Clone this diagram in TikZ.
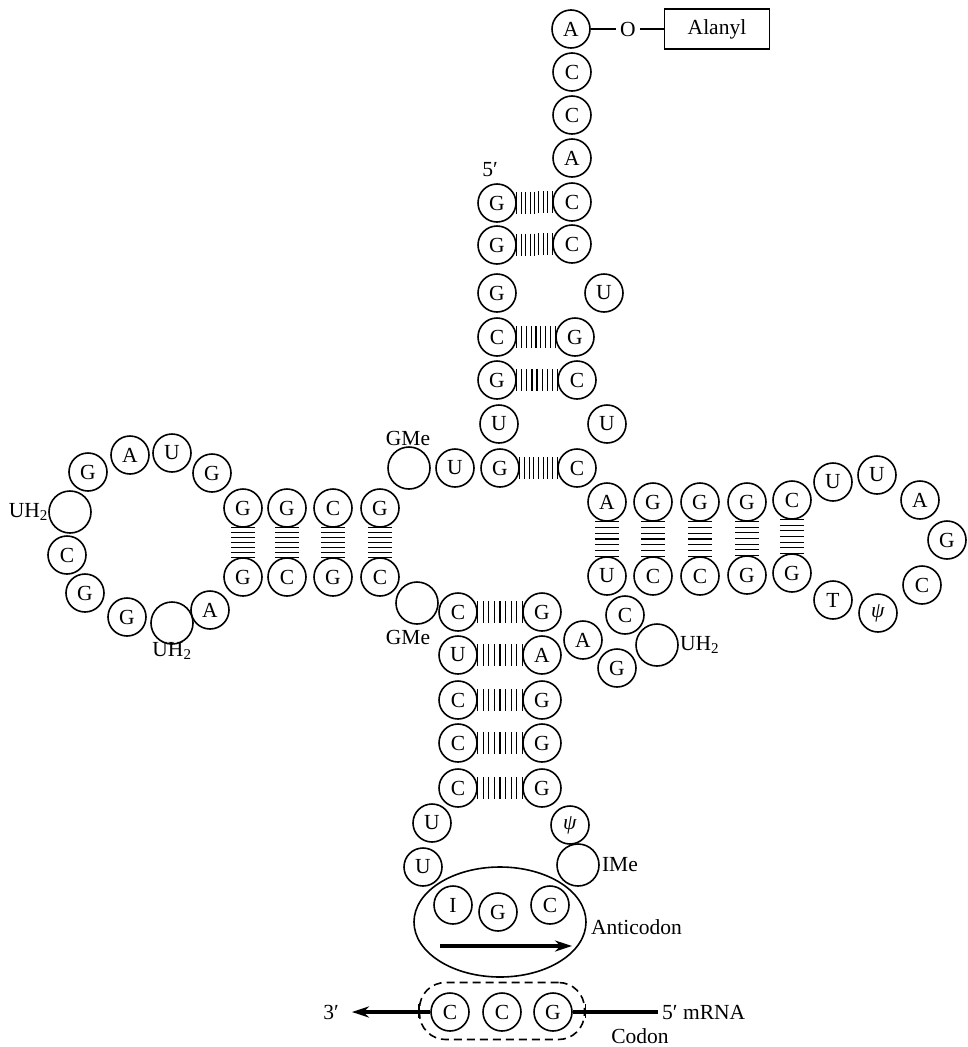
\documentclass[tikz,border=0pt]{standalone}
\usepackage{fontspec}
\setmainfont{Liberation Serif}
\usetikzlibrary{calc,arrows.meta,shapes.geometric}
\tikzset{
 base/.style={circle,draw,line width=1.6pt,minimum size=38pt,inner sep=0pt,font=\fontsize{21.5}{24}\selectfont},
 modb/.style={base,minimum size=42pt},
 lab/.style={inner sep=0pt,font=\fontsize{21.5}{24}\selectfont},
 rung/.style={line width=1.1pt},
 bigarrow/.style={line width=3.2pt,-{Stealth[length=17pt,width=11pt]}},
}
\newcommand\hpair[2]{\foreach \i in {0,...,8}{\draw[rung] ($(#1.east)!\i/8!(#2.west)$) +(0,-11) -- +(0,11);}}
\newcommand\vpair[2]{\foreach \i in {0,...,6}{\draw[rung] ($(#1.south)!\i/6!(#2.north)$) +(-12,0) -- +(12,0);}}
\begin{document}
\begin{tikzpicture}[x=1pt,y=-1pt]
\useasboundingbox (0,0) rectangle (967,1047);
% acceptor stem
\node[base] (a1) at (571,29) {A};
\node[base] (a2) at (572,72) {C};
\node[base] (a3) at (572,115) {C};
\node[base] (a4) at (572,158) {A};
\node[base] (a5) at (572,202) {C};
\node[base] (a6) at (572,244) {C};
\node[base] (r3) at (604,293) {U};
\node[base] (r4) at (575,337) {G};
\node[base] (r5) at (577,380) {C};
\node[base] (r6) at (607,424) {U};
\node[base] (r7) at (577,468) {C};
\node[base] (l1) at (497,203) {G};
\node[base] (l2) at (497,245) {G};
\node[base] (l3) at (497,293) {G};
\node[base] (l4) at (497,337) {C};
\node[base] (l5) at (497,380) {G};
\node[base] (l6) at (499,424) {U};
\node[base] (l7) at (500,468) {G};
\node[base] (j1) at (455,468) {U};
\node[modb] (j2) at (409,468) {};
\node[lab] (p5) at (490,170) {5′};
\node[lab] (gme1) at (408,438) {GMe};
\hpair{l1}{a5}
\hpair{l2}{a6}
\hpair{l4}{r4}
\hpair{l5}{r5}
\hpair{l7}{r7}
% alanyl
\node[lab,inner sep=4pt] (ox) at (628,29) {O};
\node[draw,line width=1.6pt,minimum width=105pt,minimum height=40pt,font=\fontsize{21.5}{24}\selectfont] (ala) at (717,29) {Alanyl};
\draw[line width=1.4pt] (a1.east) -- (ox.west);
\draw[line width=1.4pt] (ox.east) -- (ala.west);
% D arm
\node[base] (d1) at (380,508) {G};
\node[base] (d2) at (333,508) {C};
\node[base] (d3) at (287,508) {G};
\node[base] (d4) at (243,508) {G};
\node[base] (e1) at (380,577) {C};
\node[base] (e2) at (333,577) {G};
\node[base] (e3) at (287,577) {C};
\node[base] (e4) at (243,577) {G};
\vpair{d1}{e1}
\vpair{d2}{e2}
\vpair{d3}{e3}
\vpair{d4}{e4}
\node[base] (dl1) at (212,473) {G};
\node[base] (dl2) at (172,453) {U};
\node[base] (dl3) at (130,455) {A};
\node[base] (dl4) at (88,472) {G};
\node[modb] (dl5) at (70,512) {};
\node[base] (dl6) at (67,555) {C};
\node[base] (dl7) at (85,593) {G};
\node[base] (dl8) at (127,617) {G};
\node[modb] (dl9) at (172,623) {};
\node[base] (dl10) at (210,610) {A};
\node[lab,anchor=east] (uh1) at (dl5.west) {UH\textsubscript{2}};
\node[lab,anchor=north] (uh2) at ([yshift=3pt]dl9.south) {UH\textsubscript{2}};
\node[modb] (gm2) at (417,603) {};
\node[lab] (gme2) at (408,637) {GMe};
% anticodon stem
\node[base] (s1) at (458,612) {C};
\node[base] (t1) at (542,612) {G};
\node[base] (s2) at (458,655) {U};
\node[base] (t2) at (542,655) {A};
\node[base] (s3) at (458,700) {C};
\node[base] (t3) at (542,700) {G};
\node[base] (s4) at (458,743) {C};
\node[base] (t4) at (542,743) {G};
\node[base] (s5) at (458,788) {C};
\node[base] (t5) at (542,788) {G};
\hpair{s1}{t1}
\hpair{s2}{t2}
\hpair{s3}{t3}
\hpair{s4}{t4}
\hpair{s5}{t5}
\node[base] (u1) at (432,823) {U};
\node[base] (u2) at (423,867) {U};
\node[base] (psi1) at (570,825) {\textit{ψ}};
\node[modb] (ime) at (578,865) {};
\node[lab,anchor=west] (imel) at ([xshift=2pt]ime.east) {IMe};
% anticodon
\node[ellipse,draw,line width=1.6pt,minimum width=172pt,minimum height=110pt] (acl) at (500,922) {};
\node[base] (ac1) at (453,905) {I};
\node[base] (ac2) at (498,912) {G};
\node[base] (ac3) at (550,905) {C};
\coordinate (aa1) at (440,946);
\coordinate (aa2) at (572,946);
\draw[bigarrow] (aa1) -- (aa2);
\node[lab,anchor=west] (acn) at (591,927) {Anticodon};
% codon
\node[draw,dashed,dash pattern=on 8pt off 5pt,line width=1.6pt,rounded corners=26pt,minimum width=165pt,minimum height=57pt] (cb) at (502,1011) {};
\node[base] (c1) at (450,1012) {C};
\node[base] (c2) at (502,1012) {C};
\node[base] (c3) at (553,1012) {G};
\node[lab] (p3) at (331,1012) {3′};
\node[lab,anchor=west] (mr) at (662,1012) {5′ mRNA};
\node[lab] (cdn) at (640,1036) {Codon};
\draw[bigarrow] (c1.west) -- ([xshift=13pt]p3.east);
\draw[line width=3.2pt] (c3.east) -- ([xshift=-4pt]mr.west);
\draw[line width=1.6pt] (cb.west) +(0,-7) -- +(0,7);
\draw[line width=1.6pt] (cb.east) +(0,-7) -- +(0,7);
% variable loop
\node[base] (v1) at (583,640) {A};
\node[base] (v2) at (617,668) {G};
\node[base] (v3) at (625,615) {C};
\node[modb] (v4) at (657,645) {};
\node[lab,anchor=west] (uh3) at ([xshift=1pt]v4.east) {UH\textsubscript{2}};
% T arm
\node[base] (f1) at (607,502) {A};
\node[base] (f2) at (653,502) {G};
\node[base] (f3) at (700,502) {G};
\node[base] (f4) at (747,502) {G};
\node[base] (f5) at (792,500) {C};
\node[base] (g1) at (607,576) {U};
\node[base] (g2) at (653,576) {C};
\node[base] (g3) at (700,576) {C};
\node[base] (g4) at (747,575) {G};
\node[base] (g5) at (792,573) {G};
\vpair{f1}{g1}
\vpair{f2}{g2}
\vpair{f3}{g3}
\vpair{f4}{g4}
\vpair{f5}{g5}
\node[base] (tl1) at (833,482) {U};
\node[base] (tl2) at (877,475) {U};
\node[base] (tl3) at (920,500) {A};
\node[base] (tl4) at (947,540) {G};
\node[base] (tl5) at (922,585) {C};
\node[base] (tl6) at (878,613) {\textit{ψ}};
\node[base] (tl7) at (833,600) {T};
\end{tikzpicture}
\end{document}
